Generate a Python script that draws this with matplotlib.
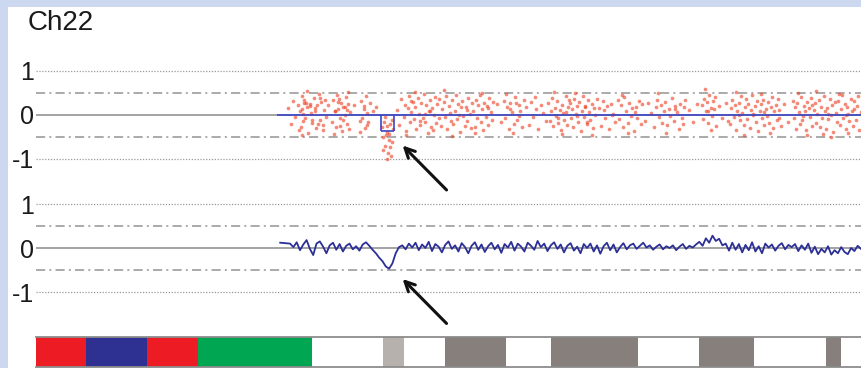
import matplotlib
matplotlib.use("Agg")
import matplotlib.pyplot as plt
from matplotlib.patches import Rectangle

plt.rcParams['font.family'] = ['Liberation Sans', 'DejaVu Sans']

# chromosome 22, positions in Mb
chrom_name = "Ch22"
chrom_end = 50.0

# array CGH probes (log2 ratio), top track
probe_pos = [
    15.3, 15.45, 15.6, 15.72, 15.85, 15.93, 16.02, 16.1, 16.18, 16.27,
    16.05, 16.15, 16.24, 16.33, 16.41, 16.5, 16.58, 16.66, 16.75, 16.83,
    16.9, 16.98, 17.05, 17.13, 17.22, 17.3, 17.38, 17.46, 17.55, 16.45,
    16.2, 16.7, 17.2, 16.36, 16.88, 17.42, 16.12, 16.62, 17.1, 17.5,
    17.7, 17.95, 18.02, 18.1, 18.18, 18.25, 18.33, 18.4, 18.48, 18.55,
    18.63, 18.7, 18.78, 18.85, 18.93, 19.0, 18.05, 18.3, 18.6, 18.9,
    18.15, 18.45, 18.72, 18.98, 18.38, 18.82, 19.3, 19.62, 19.7, 19.78,
    19.85, 19.92, 20.0, 20.08, 20.15, 20.22, 19.66, 19.88, 20.05, 20.4,
    20.95, 21.02, 21.1, 21.18, 21.25, 21.33, 21.4, 21.48, 21.55, 21.62,
    21.05, 21.2, 21.37, 21.5, 21.15, 21.3, 21.45, 21.58, 21.28, 20.6,
    21.85, 22.0, 22.15, 22.3, 22.38, 22.45, 22.53, 22.6, 22.68, 22.75,
    22.83, 22.9, 22.98, 23.05, 23.13, 23.2, 23.28, 23.35, 23.43, 23.5,
    23.58, 23.65, 23.73, 23.8, 23.88, 23.95, 24.03, 24.1, 24.18, 24.25,
    24.33, 24.4, 22.4, 22.95, 23.55, 24.05, 22.7, 23.25, 23.85, 24.45,
    24.55, 24.63, 24.7, 24.78, 24.85, 24.93, 25.0, 25.08, 25.15, 25.23,
    25.3, 25.38, 25.45, 25.53, 25.6, 25.68, 25.75, 25.83, 25.9, 25.98,
    26.05, 26.13, 26.2, 26.28, 26.35, 26.43, 24.75, 25.2, 25.65, 26.1,
    26.5, 26.58, 26.65, 26.73, 26.8, 26.88, 26.95, 27.03, 27.1, 27.18,
    27.25, 27.33, 27.4, 27.48, 27.55, 27.63, 27.7, 26.62, 27.0, 27.38,
    27.95, 28.2, 28.35, 28.45, 28.55, 28.65, 28.75, 28.85, 28.95, 29.05,
    29.15, 29.25, 29.35, 29.45, 29.55, 28.5, 28.9, 29.3, 28.7, 29.1,
    29.7, 29.85, 30.0, 30.15, 30.3, 30.45, 30.6, 30.75, 30.9, 30.25,
    31.05, 31.13, 31.2, 31.28, 31.35, 31.43, 31.5, 31.58, 31.65, 31.73,
    31.8, 31.88, 31.95, 32.03, 32.1, 32.18, 32.25, 32.33, 32.4, 32.48,
    32.55, 32.63, 32.7, 32.78, 32.85, 32.93, 33.0, 33.08, 33.15, 33.23,
    33.3, 33.38, 33.45, 33.53, 33.6, 33.68, 33.75, 33.83, 33.9, 33.98,
    31.4, 31.9, 32.35, 32.8, 33.25, 33.7, 31.62, 32.15, 32.65, 33.4,
    34.1, 34.22, 34.35, 34.48, 34.6, 34.72, 34.85, 34.98, 35.1, 35.25,
    35.35, 35.45, 35.55, 35.65, 35.75, 35.85, 35.95, 36.05, 36.15, 36.25,
    36.35, 36.45, 36.55, 36.65, 35.5, 35.9, 36.3, 34.4, 34.9, 36.7,
    36.9, 37.1, 37.3, 37.45, 37.55, 37.65, 37.75, 37.85, 37.95, 38.05,
    38.15, 38.25, 38.35, 38.45, 38.55, 38.65, 38.75, 38.85, 38.95, 39.05,
    39.15, 39.25, 39.35, 37.7, 38.2, 38.7, 39.2, 39.55, 39.8, 40.05,
    40.35, 40.43, 40.5, 40.58, 40.65, 40.73, 40.8, 40.88, 40.95, 41.03,
    41.1, 41.2, 40.55, 40.9, 41.4, 41.6, 41.8, 41.95, 40.7, 41.15,
    42.05, 42.13, 42.2, 42.28, 42.35, 42.43, 42.5, 42.58, 42.65, 42.73,
    42.8, 42.88, 42.95, 43.03, 43.1, 43.18, 43.25, 43.33, 43.4, 43.48,
    43.55, 43.63, 43.7, 43.78, 43.85, 43.93, 44.0, 44.08, 44.15, 44.23,
    44.3, 44.38, 44.45, 44.53, 44.6, 44.68, 44.75, 44.83, 44.9, 44.98,
    45.05, 45.13, 42.4, 42.9, 43.45, 43.95, 44.5, 45.0, 42.6, 44.1,
    45.35, 45.6, 45.85, 45.93, 46.0, 46.08, 46.15, 46.23, 46.3, 46.38,
    46.45, 46.53, 46.6, 46.68, 46.75, 46.83, 46.9, 46.98, 47.05, 47.13,
    47.2, 47.28, 47.35, 47.43, 47.5, 47.58, 47.65, 47.73, 47.8, 47.88,
    47.95, 48.03, 48.1, 48.18, 48.25, 48.33, 48.4, 48.48, 48.55, 48.63,
    48.7, 48.78, 48.85, 48.93, 49.0, 49.08, 49.15, 49.23, 49.3, 49.38,
    49.45, 49.53, 49.6, 49.68, 49.75, 49.83, 49.9, 49.98, 46.2, 46.7,
    47.25, 47.7, 48.2, 48.65, 49.1, 49.55, 46.5, 47.0, 48.0, 49.2,
]
probe_log2 = [
    0.14, -0.22, 0.31, -0.06, 0.21, -0.35, 0.08, 0.42, -0.15, 0.27,
    -0.28, 0.12, 0.33, -0.09, 0.18, -0.41, 0.25, 0.04, -0.19, 0.37,
    0.15, -0.31, 0.22, 0.46, -0.12, 0.29, -0.24, 0.11, -0.05, 0.53,
    0.02, -0.13, 0.38, 0.26, 0.09, -0.36, -0.47, 0.19, -0.21, 0.32,
    0.21, -0.17, 0.34, 0.07, -0.29, 0.45, 0.13, -0.08, 0.27, -0.38,
    0.16, -0.02, 0.39, -0.21, 0.24, 0.05, -0.44, 0.29, -0.12, 0.51,
    0.09, -0.26, 0.18, -0.33, 0.36, 0.11, 0.22, -0.15, 0.31, -0.07,
    0.19, -0.31, 0.41, 0.03, -0.18, 0.26, -0.39, 0.12, -0.24, 0.08,
    -0.28, -0.52, -0.16, -0.71, -0.39, -0.88, -0.45, -0.21, -0.63, -0.34,
    -0.81, -0.47, -0.58, -0.95, -0.05, -0.26, -0.74, -0.12, -1.02, 0.17,
    0.11, -0.24, 0.35, -0.05, 0.22, -0.37, 0.14, 0.43, -0.18, 0.06,
    0.29, -0.11, 0.17, -0.32, 0.38, 0.02, -0.23, 0.26, -0.07, 0.47,
    -0.16, 0.21, -0.41, 0.09, 0.33, -0.28, 0.15, -0.02, 0.39, -0.19,
    0.24, -0.09, -0.46, 0.52, 0.01, -0.35, 0.31, -0.14, 0.08, 0.36,
    -0.27, 0.13, 0.28, -0.06, 0.41, -0.33, 0.19, 0.04, -0.15, 0.34,
    -0.22, 0.07, 0.45, -0.11, 0.23, -0.39, 0.16, 0.31, -0.04, -0.26,
    0.18, -0.14, 0.37, 0.02, -0.31, 0.26, 0.55, -0.48, -0.02, 0.11,
    0.09, -0.29, 0.32, -0.08, 0.21, 0.44, -0.17, 0.12, -0.36, 0.27,
    -0.05, 0.19, -0.24, 0.38, 0.06, -0.13, 0.29, -0.42, 0.49, 0.15,
    0.23, -0.18, 0.31, -0.07, 0.16, -0.34, 0.27, 0.05, -0.21, 0.39,
    -0.12, 0.22, 0.08, -0.29, 0.34, 0.47, -0.41, -0.03, 0.13, 0.26,
    0.17, -0.23, 0.29, -0.06, 0.12, -0.32, 0.21, 0.03, -0.15, 0.4,
    0.26, -0.14, 0.07, 0.38, -0.27, 0.15, -0.04, 0.31, -0.19, 0.1,
    -0.35, 0.22, 0.04, -0.12, 0.43, -0.24, 0.18, 0.33, -0.08, 0.13,
    -0.29, 0.36, 0.01, 0.2, -0.16, 0.28, -0.38, 0.09, 0.41, -0.06,
    0.17, -0.22, 0.32, 0.05, -0.13, 0.25, -0.31, 0.14, -0.02, 0.35,
    0.51, -0.45, 0.27, -0.03, 0.19, -0.47, -0.09, 0.06, 0.48, -0.17,
    0.14, -0.25, 0.3, -0.07, 0.19, -0.34, 0.24, 0.02, -0.16, 0.33,
    -0.11, 0.21, -0.28, 0.39, 0.07, -0.19, 0.27, -0.04, 0.15, -0.37,
    0.18, -0.08, 0.31, -0.22, 0.45, -0.41, 0.06, 0.1, -0.02, 0.23,
    -0.14, 0.26, 0.03, -0.29, 0.17, 0.34, -0.06, 0.22, -0.19, 0.09,
    0.29, -0.23, 0.12, -0.04, 0.37, -0.15, 0.2, 0.06, -0.32, 0.25,
    -0.09, 0.16, 0.32, 0.48, -0.42, 0.13, -0.21, 0.11, -0.18, 0.24,
    0.21, -0.11, 0.36, 0.07, 0.28, -0.2, 0.44, 0.15, -0.03, 0.31,
    0.12, -0.27, 0.58, -0.36, 0.19, -0.08, 0.26, -0.15, 0.09, 0.39,
    -0.21, 0.14, 0.33, -0.06, 0.22, -0.35, 0.09, 0.27, -0.13, 0.41,
    0.03, -0.24, 0.18, 0.36, -0.1, 0.25, -0.31, 0.11, 0.45, -0.02,
    0.19, -0.16, 0.3, -0.38, 0.07, 0.24, -0.09, 0.34, -0.23, 0.13,
    -0.04, 0.28, -0.19, 0.16, 0.39, -0.3, 0.08, 0.22, -0.12, 0.35,
    0.1, -0.26, 0.52, -0.46, 0.01, 0.47, -0.43, -0.08, -0.01, 0.05,
    0.23, -0.17, 0.31, -0.09, 0.18, -0.33, 0.26, 0.05, -0.21, 0.4,
    -0.13, 0.2, 0.07, -0.36, 0.29, 0.14, -0.05, 0.37, -0.25, 0.11,
    0.26, -0.19, 0.02, 0.33, -0.29, 0.17, -0.08, 0.42, 0.09, -0.34,
    0.15, -0.11, 0.36, -0.02, 0.21, -0.4, 0.28, 0.04, -0.17, 0.31,
    -0.23, 0.12, 0.44, -0.07, 0.25, -0.32, 0.18, 0.01, -0.14, 0.35,
    0.08, -0.27, 0.3, -0.12, 0.19, 0.41, -0.36, 0.06, 0.49, -0.47,
    0.54, -0.44, -0.5, 0.47, -0.02, 0.13, -0.03, 0.22, 0.02, -0.41,
]

# segmentation calls on the probe track
seg_start = [14.6, 20.9, 21.7]
seg_end = [20.9, 21.7, 50.0]
seg_value = [0.0, -0.375, 0.0]

# smoothed profile, bottom track
smooth_pos = [
    14.8, 15.1, 15.4, 15.6, 15.8, 16.0, 16.2, 16.4, 16.6, 16.8,
    17.0, 17.2, 17.4, 17.6, 17.8, 18.0, 18.2, 18.4, 18.6, 18.8,
    19.0, 19.2, 19.4, 19.6, 19.8, 20.0, 20.2, 20.4, 20.6, 20.8,
    21.0, 21.2, 21.4, 21.6, 21.8, 22.0, 22.2, 22.4, 22.6, 22.8,
    23.0, 23.2, 23.4, 23.6, 23.8, 24.0, 24.2, 24.4, 24.6, 24.8,
    25.0, 25.2, 25.4, 25.6, 25.8, 26.0, 26.2, 26.4, 26.6, 26.8,
    27.0, 27.2, 27.4, 27.6, 27.8, 28.0, 28.2, 28.4, 28.6, 28.8,
    29.0, 29.2, 29.4, 29.6, 29.8, 30.0, 30.2, 30.4, 30.6, 30.8,
    31.0, 31.2, 31.4, 31.6, 31.8, 32.0, 32.2, 32.4, 32.6, 32.8,
    33.0, 33.2, 33.4, 33.6, 33.8, 34.0, 34.2, 34.4, 34.6, 34.8,
    35.0, 35.2, 35.4, 35.6, 35.8, 36.0, 36.2, 36.4, 36.6, 36.8,
    37.0, 37.2, 37.4, 37.6, 37.8, 38.0, 38.2, 38.4, 38.6, 38.8,
    39.0, 39.2, 39.4, 39.6, 39.8, 40.0, 40.2, 40.4, 40.6, 40.8,
    41.0, 41.2, 41.4, 41.6, 41.8, 42.0, 42.2, 42.4, 42.6, 42.8,
    43.0, 43.2, 43.4, 43.6, 43.8, 44.0, 44.2, 44.4, 44.6, 44.8,
    45.0, 45.2, 45.4, 45.6, 45.8, 46.0, 46.2, 46.4, 46.6, 46.8,
    47.0, 47.2, 47.4, 47.6, 47.8, 48.0, 48.2, 48.4, 48.6, 48.8,
    49.0, 49.2, 49.4, 49.6, 49.8, 50.0,
]
smooth_log2 = [
    0.12, 0.11, 0.10, 0.02, 0.13, -0.05, 0.08, 0.18, -0.02, -0.16,
    0.10, 0.15, 0.03, -0.12, 0.06, 0.12, -0.04, 0.09, -0.08, 0.05,
    0.10, -0.03, 0.04, -0.06, 0.08, 0.13, 0.05, -0.04, -0.12, -0.22,
    -0.30, -0.42, -0.47, -0.35, -0.12, 0.02, 0.06, -0.03, 0.10, 0.01,
    0.12, -0.05, 0.08, 0.00, 0.14, -0.07, 0.09, 0.03, -0.10, 0.07,
    0.15, -0.02, 0.06, -0.08, 0.11, 0.02, -0.12, 0.05, 0.13, -0.04,
    0.08, -0.09, 0.04, 0.12, -0.03, 0.07, -0.11, 0.09, 0.01, 0.14,
    -0.06, 0.10, 0.03, -0.08, 0.12, 0.05, -0.04, 0.16, 0.02, 0.10,
    -0.07, 0.06, 0.13, -0.02, 0.08, -0.10, 0.05, 0.11, -0.06, 0.03,
    -0.12, 0.09, 0.00, 0.10, -0.08, 0.06, -0.13, 0.04, 0.12, -0.05,
    0.08, -0.10, 0.02, 0.11, -0.03, 0.06, 0.10, -0.02, 0.05, 0.12,
    0.01, 0.06, -0.04, 0.03, 0.08, -0.03, 0.04, 0.00, 0.06, -0.05,
    0.03, 0.09, -0.02, 0.05, 0.01, 0.08, 0.14, 0.05, 0.22, 0.12,
    0.28, 0.16, 0.21, 0.06, 0.10, -0.06, 0.12, -0.04, 0.09, -0.10,
    0.07, -0.05, 0.13, -0.08, 0.04, -0.12, 0.10, 0.01, 0.08, -0.06,
    0.05, 0.11, -0.03, 0.07, 0.02, 0.09, -0.07, 0.06, -0.04, 0.10,
    -0.11, 0.03, -0.14, -0.02, -0.10, 0.04, -0.15, -0.05, -0.12, 0.02,
    -0.09, -0.14, 0.00, -0.07, 0.05, -0.02,
]

# ideogram bands (Mb) and stain colours
band_start = [0.0, 3.0, 6.7, 9.8, 16.7, 21.0, 22.3, 24.8, 28.5, 31.2, 36.5, 40.2, 43.5, 47.9, 48.8]
band_end = [3.0, 6.7, 9.8, 16.7, 21.0, 22.3, 24.8, 28.5, 31.2, 36.5, 40.2, 43.5, 47.9, 48.8, 50.0]
band_color = ['#ed1c24', '#2e3192', '#ed1c24', '#00a651', 'white', '#b7b1ae', 'white',
              '#867f7c', 'white', '#867f7c', 'white', '#867f7c', 'white', '#867f7c', 'white']

# arrows pointing at the deletion (tip, tail) in track coordinates
arrow_tip = (22.1, -0.66)
arrow_tail = (25.0, -1.76)

W, H = 861, 368
fig = plt.figure(figsize=(W / 100, H / 100), dpi=100, facecolor='#cbd8ef')
fig.add_artist(Rectangle((8 / W, 0), 1, (H - 7) / H, transform=fig.transFigure,
                         facecolor='white', edgecolor='none', zorder=0))


def px_axes(left, top, right, bottom):
    return fig.add_axes([left / W, 1 - bottom / H, (right - left) / W, (bottom - top) / H])


def track(ax):
    ax.set_xlim(0, chrom_end)
    ax.set_ylim(-1.5, 1.5)
    ax.patch.set_alpha(0)
    for s in ax.spines.values():
        s.set_visible(False)
    ax.set_xticks([])
    ax.set_yticks([-1, 0, 1])
    ax.set_yticklabels(['-1', '0', '1'], fontsize=18, color='#1a1a1a')
    ax.tick_params(axis='y', length=0, pad=1.5)
    ax.axhline(0, color='#8a8a8a', lw=1.1, zorder=1)
    for v in (1, -1):
        ax.axhline(v, color='#9a9a9a', lw=0.9, ls=(0, (1, 1.3)), zorder=1)
    for v in (0.5, -0.5):
        ax.axhline(v, color='#9c9c9c', lw=1.2, ls=(0, (5.5, 2.5, 1.2, 2.5)), zorder=1)


ax_top = px_axes(36, 48.5, 861, 180.5)
track(ax_top)
ax_top.scatter(probe_pos, probe_log2, s=7, color='#ec3d20', alpha=0.6, linewidths=0, zorder=2)
ax_top.hlines(seg_value, seg_start, seg_end, color='#3b45c8', lw=1.2, zorder=3)
ax_top.hlines(0, seg_start[1], seg_end[1], color='#3b45c8', lw=1.2, zorder=3)
ax_top.vlines([seg_start[1], seg_end[1]], seg_value[1], 0, color='#3b45c8', lw=1.2, zorder=3)
ax_top.annotate('', xy=arrow_tip, xytext=arrow_tail, annotation_clip=False,
                arrowprops=dict(arrowstyle='->,head_length=0.7,head_width=0.35', lw=2.2, color='#111111'))

ax_bot = px_axes(36, 182, 861, 314)
track(ax_bot)
ax_bot.plot(smooth_pos, smooth_log2, color='#2b2f96', lw=1.3, zorder=3)
ax_bot.annotate('', xy=arrow_tip, xytext=arrow_tail, annotation_clip=False,
                arrowprops=dict(arrowstyle='->,head_length=0.7,head_width=0.35', lw=2.2, color='#111111'))

ax_ideo = px_axes(36, 337, 861, 367)
ax_ideo.barh(0, [e - s for s, e in zip(band_start, band_end)], left=band_start,
             height=1, color=band_color, edgecolor='none')
ax_ideo.set_xlim(0, chrom_end)
ax_ideo.set_ylim(-0.5, 0.5)
ax_ideo.set_xticks([])
ax_ideo.set_yticks([])
ax_ideo.spines['left'].set_visible(False)
ax_ideo.spines['right'].set_visible(False)
for side in ('top', 'bottom'):
    ax_ideo.spines[side].set_color('#8c8c8c')
    ax_ideo.spines[side].set_linewidth(1.3)

fig.text(28 / W, 1 - 30 / H, chrom_name, fontsize=20, color='#1a1a1a', va='baseline')

fig.savefig('out.png', dpi=100, facecolor=fig.get_facecolor())
